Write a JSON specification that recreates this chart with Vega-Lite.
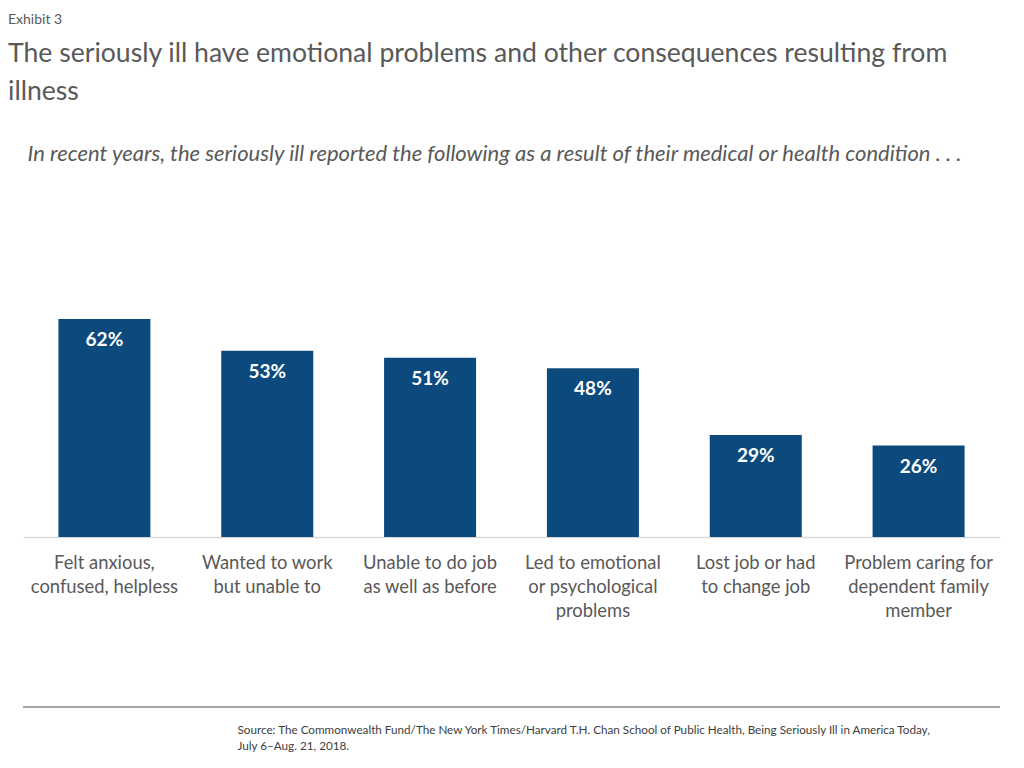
{
  "$schema": "https://vega.github.io/schema/vega-lite/v6.json",
  "width": 977,
  "height": 337,
  "autosize": {"type": "none"},
  "padding": {"left": 23, "top": 200, "right": 24, "bottom": 231},
  "background": "white",
  "config": {"view": {"stroke": null}, "font": "Lato"},
  "title": {
    "text": "Exhibit 3",
    "subtitle": ["The seriously ill have emotional problems and other consequences resulting from", "illness"],
    "anchor": "start",
    "frame": "group",
    "dx": -15,
    "offset": 36,
    "font": "Lato",
    "fontSize": 14,
    "fontWeight": "normal",
    "color": "#595959",
    "subtitleFont": "Lato",
    "subtitleFontSize": 26.6,
    "subtitleLineHeight": 38,
    "subtitleColor": "#595959",
    "subtitlePadding": 14
  },
  "data": {
    "values": [
      {"item": "Felt anxious,|confused, helpless", "pct": 62, "label": "62%"},
      {"item": "Wanted to work|but unable to", "pct": 53, "label": "53%"},
      {"item": "Unable to do job|as well as before", "pct": 51, "label": "51%"},
      {"item": "Led to emotional|or psychological|problems", "pct": 48, "label": "48%"},
      {"item": "Lost job or had|to change job", "pct": 29, "label": "29%"},
      {"item": "Problem caring for|dependent family|member", "pct": 26, "label": "26%"}
    ]
  },
  "layer": [
    {
      "mark": {"type": "bar", "color": "#0c4a7e"},
      "encoding": {
        "x": {
          "field": "item",
          "type": "nominal",
          "sort": null,
          "scale": {"paddingInner": 0.435, "paddingOuter": 0.2175},
          "axis": {
            "labelExpr": "split(datum.label, '|')",
            "labelAngle": 0,
            "labelFontSize": 18.4,
            "labelColor": "#595959",
            "labelLineHeight": 24,
            "labelPadding": 16,
            "labelLimit": 300,
            "labelBaseline": "top",
            "ticks": false,
            "domainColor": "#d9d9d9",
            "domainWidth": 1.5,
            "title": ["Source: The Commonwealth Fund/The New York Times/Harvard T.H. Chan School of Public Health, Being Seriously Ill in America Today,", "July 6\u2013Aug. 21, 2018."],
            "titleFontSize": 11.7,
            "titleFontWeight": "normal",
            "titleColor": "#404040",
            "titleLineHeight": 16,
            "titleAlign": "left",
            "titleAnchor": "start",
            "titleBaseline": "middle",
            "titleX": 214,
            "titleY": 192
          }
        },
        "y": {
          "field": "pct",
          "type": "quantitative",
          "scale": {"domain": [0, 95.85], "nice": false},
          "axis": {
            "labels": false,
            "ticks": false,
            "domain": false,
            "grid": false,
            "title": "In recent years, the seriously ill reported the following as a result of their medical or health condition . . .",
            "titleAngle": 0,
            "titleAlign": "left",
            "titleBaseline": "middle",
            "titleX": 4,
            "titleY": -47,
            "titleFontSize": 22,
            "titleFontStyle": "italic",
            "titleFontWeight": "normal",
            "titleColor": "#595959"
          }
        }
      }
    },
    {
      "mark": {"type": "text", "color": "white", "fontWeight": "bold", "fontSize": 19, "baseline": "top", "dy": 12},
      "encoding": {
        "x": {"field": "item", "type": "nominal", "sort": null},
        "y": {"field": "pct", "type": "quantitative"},
        "text": {"field": "label", "type": "nominal"}
      }
    },
    {
      "mark": {"type": "rule", "color": "#a6a6a6", "strokeWidth": 1.5},
      "encoding": {"y": {"datum": -48.3}}
    }
  ]
}
